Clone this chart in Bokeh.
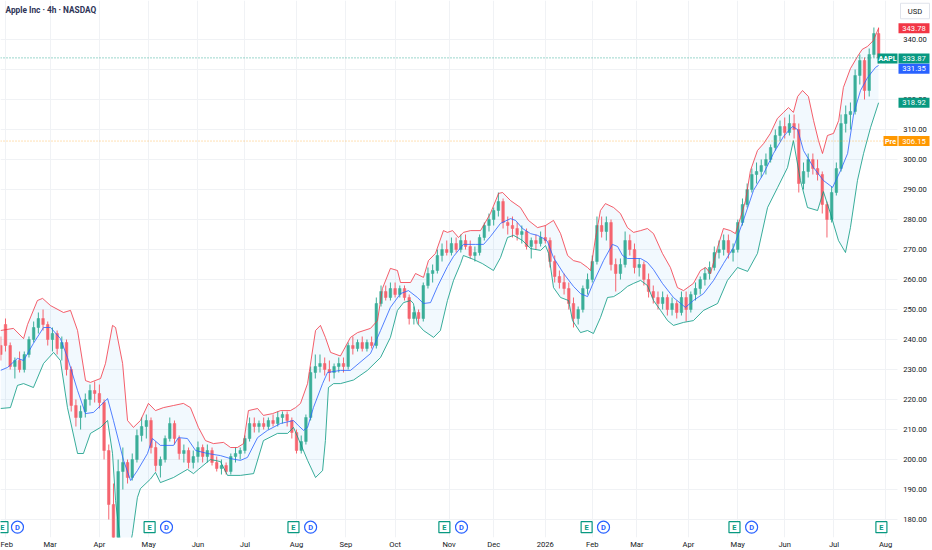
from bokeh.plotting import figure
from bokeh.models import Range1d, FixedTicker, Label, ColumnDataSource
from bokeh.embed import file_html
from bokeh.resources import INLINE
from bokeh.core.properties import value

FONT = "Roboto"

# ---------------- data ----------------
month_day = [0, 19, 40, 61, 82, 102, 124, 145, 166, 189, 208, 230, 250, 269, 291, 312, 332, 353, 375]
month_label = ["Feb", "Mar", "Apr", "May", "Jun", "Jul", "Aug", "Sep", "Oct", "Nov", "Dec",
               "2026", "Feb", "Mar", "Apr", "May", "Jun", "Jul", "Aug"]
price_ticks = [180, 190, 200, 210, 220, 230, 240, 250, 260, 270, 280, 290, 300, 310, 320, 330, 340]

bar_day = list(range(-2, 373, 2))  # trading-day index of each bar
opens = [238, 245, 238, 231, 233, 230, 235, 240, 244, 247,
         245, 240, 242, 237, 239, 230, 218, 214, 216, 220,
         223, 222, 219, 203, 185, 174, 196, 199, 194, 200,
         208, 211, 213, 204, 198, 200, 207, 212, 207, 202,
         203, 199, 201, 204, 201, 203, 199, 197, 198, 196,
         201, 202, 203, 207, 212, 211, 212, 211, 213, 212,
         214, 215, 213, 209, 203, 206, 214, 229, 231, 232,
         230, 229, 231, 232, 231, 238, 237, 239, 237, 239,
         238, 252, 256, 254, 257, 255, 257, 254, 247, 249,
         247, 258, 262, 263, 268, 270, 269, 272, 270, 273,
         271, 268, 269, 274, 278, 280, 283, 286, 279, 278,
         277, 275, 276, 271, 273, 272, 274, 273, 266, 261,
         259, 257, 252, 247, 250, 257, 260, 266, 278, 276,
         279, 265, 262, 265, 273, 270, 264, 265, 260, 256,
         254, 252, 254, 250, 252, 249, 254, 250, 255, 257,
         260, 262, 264, 269, 270, 273, 269, 270, 279, 285,
         290, 295, 296, 298, 300, 304, 308, 311, 309, 312,
         310, 292, 296, 300, 297, 295, 285, 280, 289, 297,
         312, 315, 316, 328, 333, 323, 335, 342]
highs = [241, 247, 239, 234, 236, 236, 241, 246, 249, 250,
         246, 244, 243, 241, 240, 231, 220, 218, 222, 225,
         226, 225, 220, 205, 192, 200, 204, 200, 202, 210,
         214, 215, 214, 206, 201, 208, 214, 213, 208, 205,
         204, 203, 206, 205, 205, 204, 201, 200, 199, 202,
         204, 204, 208, 214, 214, 213, 214, 214, 215, 216,
         216, 216, 214, 210, 208, 215, 231, 235, 235, 234,
         233, 232, 234, 234, 239, 241, 240, 241, 240, 241,
         254, 258, 258, 259, 259, 258, 258, 255, 251, 250,
         259, 264, 265, 270, 272, 273, 274, 274, 275, 275,
         273, 271, 275, 279, 282, 284, 289, 287, 281, 281,
         279, 278, 277, 274, 275, 276, 278, 274, 268, 263,
         262, 259, 254, 251, 258, 262, 268, 281, 281, 281,
         280, 267, 267, 276, 275, 272, 267, 266, 262, 258,
         256, 256, 255, 254, 253, 256, 256, 256, 259, 261,
         264, 266, 271, 273, 275, 275, 272, 280, 287, 292,
         297, 299, 300, 302, 305, 310, 313, 314, 315, 315,
         312, 299, 302, 302, 300, 296, 286, 291, 299, 315,
         318, 319, 330, 335, 334, 337, 344, 344]
lows = [233, 236, 230, 227, 229, 229, 234, 239, 242, 243,
        238, 236, 235, 233, 228, 216, 211, 210, 214, 218,
        219, 217, 200, 180, 169, 172, 190, 192, 193, 199,
        206, 207, 202, 196, 194, 199, 206, 205, 200, 199,
        197, 197, 199, 199, 199, 198, 196, 195, 195, 195,
        199, 200, 202, 206, 209, 209, 210, 210, 211, 211,
        212, 211, 207, 202, 202, 205, 213, 227, 229, 228,
        226, 227, 229, 229, 230, 235, 236, 236, 236, 237,
        237, 251, 253, 253, 254, 254, 253, 245, 245, 245,
        246, 257, 259, 262, 266, 268, 268, 269, 269, 270,
        267, 266, 268, 273, 276, 278, 281, 277, 275, 274,
        273, 272, 270, 267, 270, 271, 272, 264, 259, 257,
        255, 250, 244, 245, 249, 255, 259, 265, 274, 273,
        263, 256, 260, 264, 268, 262, 261, 258, 254, 252,
        250, 250, 248, 248, 247, 248, 246, 249, 253, 255,
        258, 260, 263, 267, 268, 267, 266, 269, 278, 284,
        289, 292, 294, 295, 299, 303, 306, 307, 308, 307,
        289, 290, 294, 295, 293, 282, 274, 279, 288, 296,
        309, 310, 315, 325, 320, 321, 334, 332]
closes = [235, 238, 231, 233, 230, 235, 240, 244, 247, 245,
          240, 242, 237, 239, 230, 218, 214, 216, 220, 223,
          222, 219, 203, 185, 174, 196, 199, 194, 200, 208,
          211, 213, 204, 198, 200, 207, 212, 207, 202, 203,
          199, 201, 204, 201, 203, 199, 197, 198, 196, 201,
          202, 203, 207, 212, 211, 212, 211, 213, 212, 214,
          215, 213, 209, 203, 206, 214, 229, 231, 232, 230,
          229, 231, 232, 231, 238, 237, 239, 237, 239, 238,
          252, 256, 254, 257, 255, 257, 254, 247, 249, 247,
          258, 262, 263, 268, 270, 269, 272, 270, 273, 271,
          268, 269, 274, 278, 280, 283, 286, 279, 278, 277,
          275, 276, 271, 273, 272, 274, 273, 266, 261, 259,
          257, 252, 247, 250, 257, 260, 266, 278, 276, 279,
          265, 262, 265, 273, 270, 264, 265, 260, 256, 254,
          252, 254, 250, 252, 249, 254, 250, 255, 257, 260,
          262, 264, 269, 270, 273, 269, 270, 279, 285, 290,
          295, 296, 298, 300, 304, 308, 311, 309, 312, 310,
          292, 296, 300, 297, 295, 285, 280, 289, 297, 312,
          315, 316, 328, 333, 323, 335, 342, 333.87]

# Bollinger bands (20, 2)
upper_day = [-2.1, 3.4, 7.7, 9.4, 13.6, 15.8, 19.2, 24.7, 27.7, 30.7,
             34.1, 36.2, 40.5, 42.6, 45.6, 46.9, 49.9, 52.0, 54.5, 57.5,
             60.9, 63.9, 67.3, 71.6, 75.8, 78.8, 82.2, 85.2, 88.6, 92.9,
             95.9, 98.8, 101.4, 103.5, 107.4, 109.9, 113.8, 117.2, 121.4, 123.6,
             125.7, 128.7, 132.1, 134.2, 136.3, 138.5, 142.7, 147.0, 150.0, 155.5,
             158.5, 160.6, 164.0, 167.0, 168.3, 172.6, 174.7, 178.1, 180.2, 183.2,
             186.6, 188.3, 190.5, 193.0, 195.1, 198.1, 202.4, 206.6, 210.1, 211.8,
             215.2, 219.4, 222.8, 226.7, 230.1, 233.5, 236.5, 239.5, 242.0, 245.0,
             248.0, 249.3, 251.4, 253.5, 255.6, 259.1, 262.0, 265.0, 267.6, 270.6,
             273.5, 276.1, 279.9, 283.3, 286.3, 288.9, 293.1, 296.1, 298.3, 300.4,
             303.4, 305.9, 308.9, 311.0, 313.2, 315.3, 317.4, 320.4, 323.0, 325.9,
             328.9, 331.5, 333.6, 335.7, 337.5, 339.6, 342.1, 344.3, 346.4, 348.1,
             350.2, 352.8, 355.0, 357.0, 360.0, 363.0, 365.0, 367.3, 369.8, 372.0]
upper_val = [243.0, 243.7, 240.3, 245.0, 253.0, 253.7, 251.3, 249.0, 249.7, 243.0,
             226.3, 225.7, 227.0, 232.0, 244.7, 244.0, 232.0, 213.0, 210.7, 213.0,
             218.7, 216.3, 217.3, 218.0, 218.7, 217.3, 210.7, 206.3, 205.3, 205.7,
             204.0, 204.0, 205.3, 216.3, 217.0, 214.7, 215.3, 216.3, 216.3, 217.3,
             218.7, 225.3, 243.0, 244.7, 240.7, 235.7, 234.5, 240.7, 242.3, 243.7,
             246.3, 257.0, 263.7, 263.0, 259.0, 259.0, 262.0, 260.7, 266.3, 268.7,
             276.3, 275.7, 276.3, 274.0, 275.7, 276.3, 276.3, 282.0, 288.7, 289.0,
             286.3, 284.0, 279.7, 277.3, 278.0, 279.7, 275.3, 268.0, 266.3, 265.7,
             264.0, 263.0, 274.0, 283.0, 285.3, 284.0, 282.0, 277.3, 275.7, 276.3,
             277.0, 275.3, 268.7, 264.0, 257.3, 256.3, 258.7, 263.0, 264.0, 262.0,
             270.7, 277.0, 276.3, 275.3, 280.7, 286.3, 296.3, 303.0, 305.3, 308.7,
             313.7, 315.7, 317.3, 315.7, 321.0, 323.0, 321.0, 313.0, 306.3, 302.0,
             308.0, 308.7, 313.0, 324.0, 330.3, 334.3, 336.7, 337.7, 339.7, 343.78]

mid_day = [-2.1, 0.9, 5.1, 7.7, 11.9, 16.2, 19.2, 23.4, 26.4, 30.7,
           34.1, 37.5, 40.5, 43.5, 46.0, 50.3, 53.3, 56.2, 60.5, 62.6,
           66.0, 71.6, 73.7, 77.5, 81.0, 86.1, 91.6, 95.9, 100.1, 103.1,
           107.4, 111.6, 117.2, 122.7, 124.8, 127.0, 128.7, 131.2, 135.1, 137.2,
           142.7, 147.0, 155.5, 159.8, 164.0, 168.3, 171.7, 175.5, 178.1, 181.1,
           184.1, 188.3, 190.9, 195.1, 200.3, 203.7, 206.6, 210.9, 215.2, 217.3,
           220.3, 223.7, 226.7, 229.2, 230.9, 233.5, 237.8, 242.0, 245.0, 248.0,
           250.5, 254.8, 258.6, 260.8, 262.9, 265.0, 270.6, 273.5, 276.1, 279.9,
           284.6, 289.7, 293.1, 297.4, 301.7, 305.9, 310.2, 314.4, 318.7, 323.0,
           327.2, 331.5, 335.3, 337.5, 340.0, 344.3, 348.5, 352.4, 355.8, 358.8,
           361.4, 364.3, 367.3, 370.7, 372.0]
mid_val = [229.7, 230.7, 233.7, 233.0, 238.7, 244.0, 244.0, 240.3, 234.0, 223.0,
           215.3, 215.7, 218.0, 220.3, 213.0, 199.7, 193.0, 196.3, 202.0, 207.0,
           204.7, 204.7, 207.3, 207.0, 203.0, 202.0, 201.3, 200.3, 199.7, 200.7,
           207.3, 209.7, 212.0, 213.0, 211.3, 209.7, 210.7, 217.3, 225.3, 229.0,
           229.7, 229.7, 235.3, 243.0, 250.7, 255.3, 256.3, 254.0, 252.0, 252.3,
           257.7, 264.3, 267.7, 271.7, 271.7, 271.7, 274.3, 278.7, 280.3, 279.7,
           277.0, 275.3, 274.7, 273.7, 272.7, 267.3, 262.0, 257.7, 255.3, 254.3,
           259.0, 266.3, 271.7, 271.0, 268.0, 267.0, 267.0, 265.7, 263.3, 258.7,
           254.0, 250.7, 253.0, 255.3, 259.7, 265.3, 270.7, 279.7, 289.7, 295.3,
           302.0, 307.7, 311.0, 310.0, 303.0, 297.3, 293.0, 290.7, 296.3, 302.0,
           315.3, 323.0, 327.3, 330.7, 331.35]

lower_day = [-2.1, 2.1, 5.1, 7.7, 11.9, 16.2, 20.5, 23.4, 26.4, 30.7,
             33.2, 36.2, 40.5, 43.5, 45.6, 46.9, 49.0, 52.0, 54.1, 56.2,
             57.5, 61.8, 63.9, 66.0, 71.6, 77.5, 80.1, 82.2, 87.3, 91.6,
             94.6, 100.1, 105.7, 109.9, 115.9, 120.2, 122.7, 125.7, 128.7, 132.1,
             135.1, 136.3, 137.6, 139.8, 142.7, 148.3, 154.2, 159.8, 164.0, 167.0,
             169.6, 172.6, 173.8, 175.5, 178.1, 182.4, 185.3, 188.3, 190.9, 193.9,
             195.1, 199.4, 203.2, 207.9, 210.9, 213.9, 216.5, 220.3, 223.7, 228.0,
             230.1, 231.4, 233.5, 236.5, 239.9, 241.6, 245.0, 248.0, 250.5, 253.5,
             256.5, 259.1, 262.0, 265.0, 267.6, 270.6, 273.5, 276.1, 279.1, 282.1,
             284.6, 288.9, 293.1, 297.4, 303.4, 307.6, 311.9, 316.2, 320.4, 324.7,
             329.0, 333.2, 335.7, 338.7, 341.7, 346.0, 348.5, 351.5, 354.9, 357.9,
             360.0, 363.0, 365.6, 368.6, 372.0]
lower_val = [217.0, 217.3, 224.7, 225.3, 224.0, 232.0, 235.7, 233.0, 217.3, 202.0,
             202.0, 208.7, 210.7, 213.0, 202.0, 186.3, 172.0, 167.0, 175.3, 187.3,
             190.3, 193.5, 195.7, 192.3, 194.0, 196.7, 195.3, 196.7, 200.0, 199.3,
             194.7, 194.7, 195.3, 206.3, 208.7, 208.7, 210.7, 205.3, 199.7, 194.0,
             196.3, 206.3, 224.0, 225.3, 225.3, 226.5, 229.7, 234.0, 240.7, 249.7,
             252.3, 253.0, 252.0, 245.3, 243.0, 240.7, 243.0, 253.0, 259.7, 265.3,
             268.0, 266.7, 265.3, 263.0, 267.3, 274.0, 274.7, 273.0, 270.3, 269.7,
             271.3, 268.7, 257.3, 254.0, 253.0, 246.3, 242.3, 243.0, 242.0, 247.3,
             254.0, 254.3, 255.7, 257.7, 258.7, 259.7, 258.0, 253.0, 249.7, 246.3,
             244.7, 245.7, 246.3, 249.7, 252.0, 259.7, 264.0, 262.7, 268.7, 284.0,
             290.7, 297.3, 306.3, 293.0, 284.0, 283.0, 289.3, 282.0, 273.0, 269.0,
             277.3, 293.0, 302.0, 310.7, 318.92]

earnings_day = [-1.3, 61.4, 122.7, 187.0, 247.6, 310.6, 373.2]
dividend_day = [5.1, 68.6, 130.0, 194.3, 254.8, 317.9]

last_price = 333.87
premarket_price = 306.15
title_text = "Apple Inc · 4h · NASDAQ"
currency = "USD"

# ---------------- layout / styling ----------------
UP = "#3aae99"
DOWN = "#f5646f"
TEXT = "#131722"
GRID = "#f0f2f5"

W, H = 932, 537                       # plotting frame in pixels (price scale drawn inside)
x_lo, x_hi = -2.13, 394.97            # trading-day range across the frame
y_lo, y_hi = 174.0, 353.0             # price range across the frame
dx = (x_hi - x_lo) / W                # data units per pixel
dy = (y_hi - y_lo) / H
scale_px = 897                        # left edge of the price scale
x_scale = x_lo + scale_px * dx


def xpx(px):
    return x_lo + px * dx


p = figure(frame_width=W, frame_height=H,
           x_range=Range1d(x_lo, x_hi), y_range=Range1d(y_lo, y_hi),
           y_axis_location=None, output_backend="svg", toolbar_location=None,
           min_border_left=0, min_border_top=0, min_border_right=0, min_border_bottom=13,
           background_fill_color="white", border_fill_color="white")
p.outline_line_color = None

xax = p.xaxis[0]
xax.ticker = FixedTicker(ticks=month_day)
xax.major_label_overrides = {d: lab for d, lab in zip(month_day, month_label)}
xax.axis_line_color = None
xax.major_tick_line_color = None
xax.minor_tick_line_color = None
xax.major_tick_out = 0
xax.major_tick_in = 0
xax.minor_tick_out = 0
xax.minor_tick_in = 0
xax.major_label_text_font = FONT
xax.major_label_text_font_size = "7.6px"
xax.major_label_text_color = TEXT
xax.major_label_standoff = 2

p.xgrid[0].ticker = FixedTicker(ticks=month_day)
p.ygrid[0].ticker = FixedTicker(ticks=price_ticks)
p.xgrid.grid_line_color = GRID
p.ygrid.grid_line_color = GRID

# price-scale background (hides grid there)
p.quad(left=[x_scale], right=[x_hi], bottom=[y_lo], top=[y_hi], fill_color="white", line_color=None)

# band fill
p.patch(x=upper_day + lower_day[::-1], y=upper_val + lower_val[::-1],
        fill_color="#2196f3", fill_alpha=0.06, line_color=None)

# candles
colors = [UP if c >= o else DOWN for o, c in zip(opens, closes)]
src = ColumnDataSource(dict(
    x=bar_day, h=highs, l=lows,
    top=[max(o, c) for o, c in zip(opens, closes)],
    bottom=[min(o, c) for o, c in zip(opens, closes)],
    color=colors))
p.segment(x0="x", y0="l", x1="x", y1="h", line_color="color", line_width=1, source=src)
p.vbar(x="x", width=1.1, top="top", bottom="bottom", fill_color="color",
       line_color="color", line_width=0.5, source=src)

# band lines
p.line(upper_day, upper_val, line_color="#f23645", line_width=1, line_alpha=0.8)
p.line(mid_day, mid_val, line_color="#2962ff", line_width=1, line_alpha=0.8)
p.line(lower_day, lower_val, line_color="#089981", line_width=1, line_alpha=0.8)

# price lines (dotted, stop at the price scale)
p.line([x_lo, x_scale], [last_price, last_price], line_color="#089981",
       line_dash="1 2", line_width=1, line_alpha=0.8)
p.line([x_lo, x_scale], [premarket_price, premarket_price], line_color="#ff9800",
       line_dash="1 2", line_width=1, line_alpha=0.6)

# event markers (earnings / dividends)
marker_y = y_lo + 10.3 * dy
esrc = ColumnDataSource(dict(x=earnings_day, y=[marker_y] * len(earnings_day), t=["E"] * len(earnings_day)))
dsrc = ColumnDataSource(dict(x=dividend_day, y=[marker_y] * len(dividend_day), t=["D"] * len(dividend_day)))
p.scatter(x="x", y="y", source=esrc, marker="square", size=11, fill_color="white",
          line_color="#089981", line_width=1.2)
p.text(x="x", y="y", text="t", source=esrc, text_font=value(FONT), text_font_size="7.5px",
       text_color="#089981", text_align="center", text_baseline="middle", text_font_style="bold")
p.scatter(x="x", y="y", source=dsrc, marker="circle", size=12, fill_color="white",
          line_color="#2962ff", line_width=1.2)
p.text(x="x", y="y", text="t", source=dsrc, text_font=value(FONT), text_font_size="7.5px",
       text_color="#2962ff", text_align="center", text_baseline="middle", text_font_style="bold")

# price scale tick labels
p.text(x=[xpx(914.5)] * len(price_ticks), y=price_ticks,
       text=[f"{t:.2f}" for t in price_ticks],
       text_font=value(FONT), text_font_size="7.6px", text_color=TEXT,
       text_align="center", text_baseline="middle")

# price tags on the scale
tag_val = [upper_val[-1], last_price, mid_val[-1], lower_val[-1], premarket_price]
tag_color = ["#f23645", "#089981", "#2962ff", "#089981", "#ff9800"]
tag_shift_px = [0, -0.6, -3.2, 0, 0]
tag_y = [v + s * dy for v, s in zip(tag_val, tag_shift_px)]
tsrc = ColumnDataSource(dict(x=[xpx(913.5)] * len(tag_val), y=tag_y, c=tag_color,
                             t=[f"{v:.2f}" for v in tag_val]))
p.rect(x="x", y="y", width=31, height=10, width_units="screen", height_units="screen",
       fill_color="c", line_color=None, source=tsrc)
p.text(x="x", y="y", text="t", source=tsrc, text_font=value(FONT), text_font_size="7.6px",
       text_color="white", text_align="center", text_baseline="middle")

# name tags left of the scale
nsrc = ColumnDataSource(dict(x=[xpx(887), xpx(890)], y=[last_price - 0.6 * dy, premarket_price],
                             w=[20, 14], c=["#089981", "#ff9800"], t=["AAPL", "Pre"]))
p.rect(x="x", y="y", width="w", height=10, width_units="screen", height_units="screen",
       fill_color="c", line_color=None, source=nsrc)
p.text(x="x", y="y", text="t", source=nsrc, text_font=value(FONT), text_font_size="7.2px",
       text_color="white", text_align="center", text_baseline="middle", text_font_style="bold")

# currency box
p.rect(x=[xpx(914.5)], y=[y_hi - 10.5 * dy], width=29, height=15.5, width_units="screen",
       height_units="screen", fill_color="white", line_color="#e0e3eb", line_width=1)
p.text(x=[xpx(914.5)], y=[y_hi - 10.5 * dy], text=[currency], text_font=value(FONT),
       text_font_size="7.6px", text_color=TEXT, text_align="center", text_baseline="middle")

# title
p.add_layout(Label(x=x_lo, y=y_hi, x_offset=5, y_offset=-9.5, text=title_text,
                   text_font=FONT, text_font_size="8.3px", text_font_style="bold",
                   text_color="#2e3456", text_baseline="middle", text_align="left"))

open("out.html", "w").write(file_html(p, INLINE))
